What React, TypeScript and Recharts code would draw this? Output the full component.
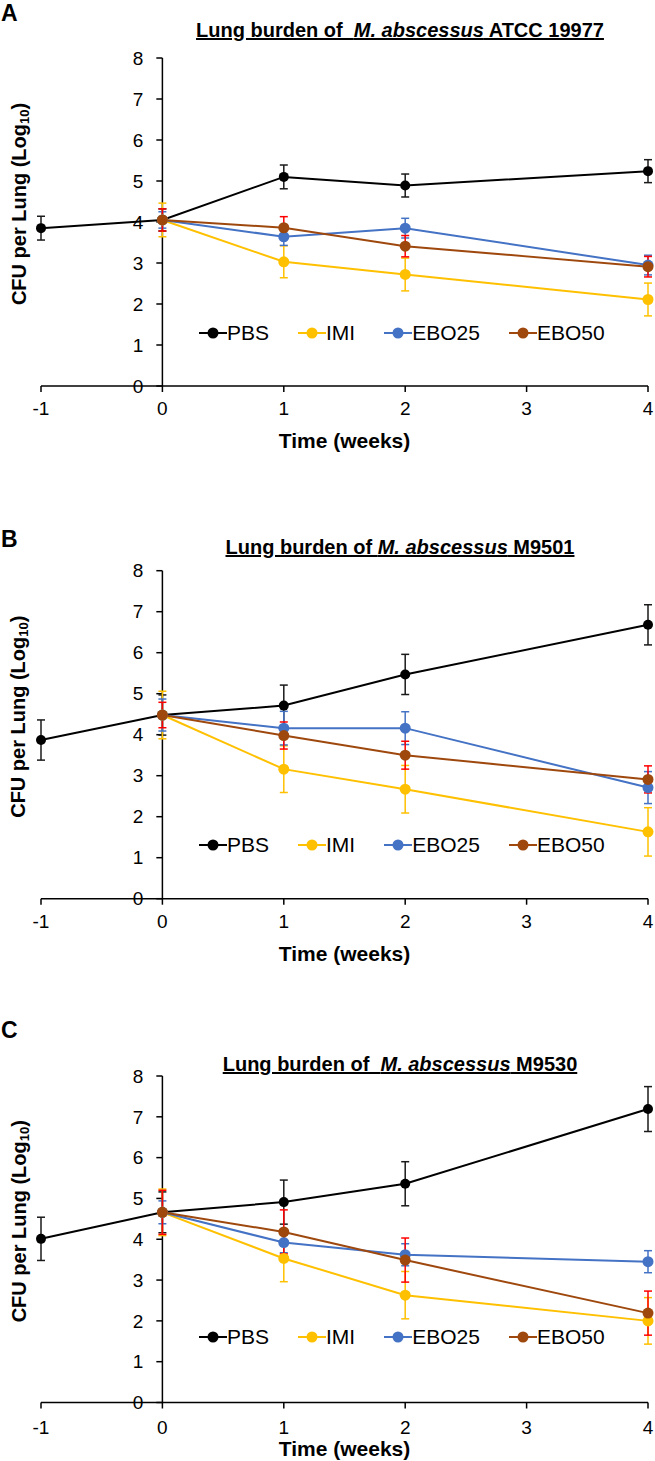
import React from 'react';
import { LineChart, Line, XAxis, YAxis, ReferenceLine, ErrorBar, Legend } from 'recharts';

const FONT = '"Liberation Sans", Arial, sans-serif';

const WEEKS = [-1, 0, 1, 2, 4];
const X_TICKS = [-1, 0, 1, 2, 3, 4];
const Y_TICKS = [0, 1, 2, 3, 4, 5, 6, 7, 8];
const SERIES = ['PBS', 'IMI', 'EBO25', 'EBO50'];

// panel A - ATCC 19977
const A_PBS = [3.85, 4.05, 5.1, 4.89, 5.24];
const A_PBS_SD = [0.29, 0.27, 0.29, 0.28, 0.28];
const A_IMI = [null, 4.05, 3.03, 2.72, 2.11];
const A_IMI_SD = [null, 0.41, 0.39, 0.4, 0.4];
const A_EBO25 = [null, 4.05, 3.64, 3.85, 2.95];
const A_EBO25_SD = [null, 0.2, 0.21, 0.24, 0.24];
const A_EBO50 = [null, 4.05, 3.86, 3.41, 2.91];
const A_EBO50_SD = [null, 0.27, 0.27, 0.26, 0.25];

// panel B - M9501
const B_PBS = [3.87, 4.48, 4.71, 5.47, 6.68];
const B_PBS_SD = [0.49, 0.49, 0.5, 0.49, 0.49];
const B_IMI = [null, 4.48, 3.16, 2.67, 1.63];
const B_IMI_SD = [null, 0.58, 0.57, 0.58, 0.59];
const B_EBO25 = [null, 4.48, 4.16, 4.16, 2.71];
const B_EBO25_SD = [null, 0.39, 0.41, 0.4, 0.39];
const B_EBO50 = [null, 4.48, 3.98, 3.5, 2.91];
const B_EBO50_SD = [null, 0.31, 0.33, 0.34, 0.33];

// panel C - M9530
const C_PBS = [4.01, 4.66, 4.91, 5.36, 7.19];
const C_PBS_SD = [0.53, 0.5, 0.54, 0.54, 0.55];
const C_IMI = [null, 4.66, 3.53, 2.63, 2.0];
const C_IMI_SD = [null, 0.57, 0.57, 0.58, 0.57];
const C_EBO25 = [null, 4.66, 3.92, 3.62, 3.45];
const C_EBO25_SD = [null, 0.28, 0.25, 0.27, 0.27];
const C_EBO50 = [null, 4.66, 4.18, 3.49, 2.19];
const C_EBO50_SD = [null, 0.54, 0.54, 0.54, 0.54];

const TITLE_LEAD = ['Lung burden of  ', 'Lung burden of ', 'Lung burden of  '];
const SPECIES = 'M. abscessus';
const STRAINS = ['ATCC 19977', 'M9501', 'M9530'];
const LETTERS = ['A', 'B', 'C'];

const COLORS: Record<string, string> = { PBS: '#000000', IMI: '#FFC000', EBO25: '#4472C4', EBO50: '#9E480E' };
const ERR_COLORS: Record<string, string> = { PBS: '#1a1a1a', IMI: '#FFC000', EBO25: '#4472C4', EBO50: '#FF0000' };

function buildRows(vals: any[][], sds: any[][]) {
  return WEEKS.map((week, i) => {
    const row: any = { week };
    SERIES.forEach((s, k) => {
      row[s] = vals[k][i];
      row[s + '_sd'] = sds[k][i];
    });
    return row;
  });
}

const PANEL_DATA = [
  buildRows([A_PBS, A_IMI, A_EBO25, A_EBO50], [A_PBS_SD, A_IMI_SD, A_EBO25_SD, A_EBO50_SD]),
  buildRows([B_PBS, B_IMI, B_EBO25, B_EBO50], [B_PBS_SD, B_IMI_SD, B_EBO25_SD, B_EBO50_SD]),
  buildRows([C_PBS, C_IMI, C_EBO25, C_EBO50], [C_PBS_SD, C_IMI_SD, C_EBO25_SD, C_EBO50_SD]),
];

// layout, page pixels
const LAYOUT = [
  { top: 0, height: 460, plotTop: 58, plotBottom: 386, xAxisH: 62, tickMargin: 10, legendY: 333, titleY: 30, letterY: 12.5 },
  { top: 500, height: 470, plotTop: 570.7, plotBottom: 898.7, xAxisH: 62, tickMargin: 10, legendY: 845, titleY: 547, letterY: 538.5 },
  { top: 1000, height: 461, plotTop: 1076, plotBottom: 1402.5, xAxisH: 53, tickMargin: 12, legendY: 1337, titleY: 1064, letterY: 1030 },
];

const YLabel = (props: any) => {
  const vb = props.viewBox;
  const cx = vb.x + vb.width / 2 - 2;
  const cy = vb.y + vb.height / 2 - 18;
  return (
    <text
      x={cx}
      y={cy}
      transform={`rotate(-90 ${cx} ${cy})`}
      textAnchor="middle"
      dominantBaseline="central"
      fontFamily={FONT}
      fontSize={20}
      fontWeight="bold"
      fill="#000"
    >
      CFU per Lung (Log
      <tspan fontSize={13} dy={5}>10</tspan>
      <tspan dy={-5}>)</tspan>
    </text>
  );
};

const LegendRow = (props: any) => {
  const items = [...(props.payload || [])].sort(
    (a: any, b: any) => SERIES.indexOf(a.value) - SERIES.indexOf(b.value)
  );
  return (
    <div style={{ display: 'flex', alignItems: 'center', fontFamily: FONT, fontSize: 21, lineHeight: '24px', color: '#000' }}>
      {items.map((p: any) => (
        <div key={p.value} style={{ display: 'flex', alignItems: 'center', marginRight: 29 }}>
          <svg width={28} height={12}>
            <line x1={0} y1={6} x2={28} y2={6} stroke={p.color} strokeWidth={2} />
            <circle cx={14} cy={6} r={5.5} fill={p.color} />
          </svg>
          <span>{p.value}</span>
        </div>
      ))}
    </div>
  );
};

function Panel({ idx }: { idx: number }) {
  const L = LAYOUT[idx];
  const plotBottomRel = L.plotBottom - L.top;
  return (
    <div style={{ position: 'absolute', left: 0, top: L.top }}>
      <LineChart
        width={655}
        height={L.height}
        data={PANEL_DATA[idx]}
        margin={{ top: L.plotTop - L.top, right: 7, left: 0, bottom: L.height - plotBottomRel - L.xAxisH }}
      >
        <XAxis
          dataKey="week"
          type="number"
          domain={[-1, 4]}
          ticks={X_TICKS}
          interval={0}
          stroke="#000"
          strokeWidth={1.5}
          tickSize={6}
          tickMargin={L.tickMargin}
          height={L.xAxisH}
          tick={{ fill: '#000', fontSize: 19, fontFamily: FONT }}
          label={{ value: 'Time (weeks)', position: 'insideBottom', offset: 0, fill: '#000', fontSize: 21, fontWeight: 'bold', fontFamily: FONT }}
        />
        <YAxis
          type="number"
          domain={[0, 8]}
          ticks={Y_TICKS}
          width={41}
          tick={false}
          axisLine={false}
          tickLine={false}
          label={<YLabel />}
        />
        <ReferenceLine segment={[{ x: 0, y: 0 }, { x: 0, y: 8 }]} stroke="#000" strokeWidth={1.5} />
        {Y_TICKS.map((v) => (
          <ReferenceLine
            key={'yt' + v}
            segment={[{ x: -0.05, y: v }, { x: 0, y: v }]}
            stroke="#000"
            strokeWidth={1.5}
            label={{ value: String(v), position: 'left', offset: 13, fill: '#000', fontSize: 19, fontFamily: FONT }}
          />
        ))}
        {SERIES.map((s) => (
          <Line
            key={s}
            type="linear"
            dataKey={s}
            name={s}
            stroke={COLORS[s]}
            strokeWidth={2}
            dot={{ r: s === 'PBS' ? 5 : 5.5, fill: COLORS[s], stroke: COLORS[s], strokeWidth: 0 }}
            activeDot={false}
            isAnimationActive={false}
          >
            <ErrorBar dataKey={s + '_sd'} width={4} stroke={ERR_COLORS[s]} strokeWidth={1.5} direction="y" isAnimationActive={false} />
          </Line>
        ))}
        <Legend
          layout="horizontal"
          verticalAlign="middle"
          align="center"
          content={<LegendRow />}
          wrapperStyle={{ left: 199, top: L.legendY - L.top - 12, width: 'auto', height: 24 }}
        />
      </LineChart>
    </div>
  );
}

export default function App() {
  return (
    <div style={{ position: 'absolute', left: 0, top: 0, width: 655, height: 1461, background: '#fff', overflow: 'hidden' }}>
      {LAYOUT.map((L, i) => (
        <React.Fragment key={i}>
          <div
            style={{
              position: 'absolute',
              left: 1,
              top: L.letterY - 13,
              fontFamily: FONT,
              fontSize: 23,
              fontWeight: 'bold',
              lineHeight: '26px',
            }}
          >
            {LETTERS[i]}
          </div>
          <div
            style={{
              position: 'absolute',
              left: 150,
              width: 500,
              top: L.titleY - 12,
              textAlign: 'center',
              fontFamily: FONT,
              fontSize: 20,
              fontWeight: 'bold',
              lineHeight: '24px',
              textDecoration: 'underline',
              whiteSpace: 'pre',
            }}
          >
            {TITLE_LEAD[i]}
            <i>{SPECIES}</i>
            {' ' + STRAINS[i]}
          </div>
          <Panel idx={i} />
        </React.Fragment>
      ))}
    </div>
  );
}
